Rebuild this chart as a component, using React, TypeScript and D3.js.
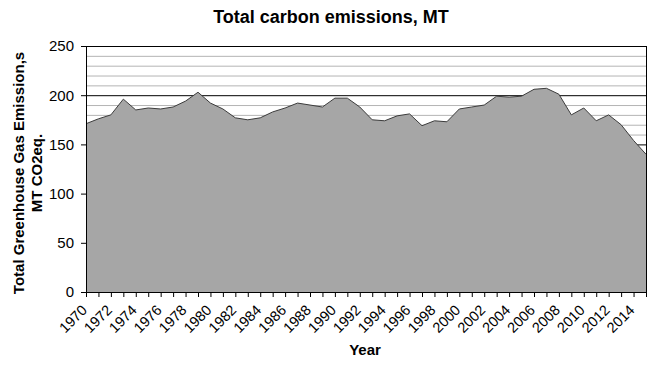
import React, { useEffect, useRef } from "react";
import * as d3 from "d3";

const years = d3.range(1970, 2016);
const emissions = [
  171, 176, 180, 196, 185, 187, 186, 188, 194, 203,
  192, 186, 177, 175, 177, 183, 187, 192, 190, 188,
  197, 197, 188, 175, 174, 179, 181, 169, 174, 173,
  186, 188, 190, 199, 198, 199, 206, 207, 201, 180,
  187, 174, 180, 170, 154, 140,
];
const yTicks = [0, 50, 100, 150, 200, 250];
const xLabelYears = years.filter((y) => y % 2 === 0 && y < 2015);

const App = () => {
  const svgRef = useRef<SVGSVGElement>(null);

  useEffect(() => {
    const margin = { top: 46, right: 14, bottom: 81, left: 86 };
    const W = 660;
    const H = 373;
    const width = W - margin.left - margin.right;
    const height = H - margin.top - margin.bottom;
    const font = "Liberation Sans, Arial, sans-serif";

    const root = d3.select(svgRef.current);
    root.selectAll("*").remove();
    root.attr("width", W).attr("height", H);

    const svg = root
      .append("g")
      .attr("transform", `translate(${margin.left},${margin.top})`);

    const x = d3.scaleLinear().domain([1970, 2015]).range([0, width]);
    const y = d3.scaleLinear().domain([0, 250]).range([height, 0]);

    // minor grid every 10, major every 50
    svg.selectAll(".minor")
      .data(d3.range(10, 250, 10).filter((v) => v % 50 !== 0))
      .enter()
      .append("line")
      .attr("x1", 0)
      .attr("x2", width)
      .attr("y1", (d) => y(d) + 0.5)
      .attr("y2", (d) => y(d) + 0.5)
      .attr("stroke", "#b4b4b4")
      .attr("stroke-width", 1);

    svg.selectAll(".major")
      .data(yTicks.filter((v) => v > 0))
      .enter()
      .append("line")
      .attr("x1", 0)
      .attr("x2", width)
      .attr("y1", (d) => y(d) + 0.5)
      .attr("y2", (d) => y(d) + 0.5)
      .attr("stroke", "#000")
      .attr("stroke-width", 1);

    const area = d3
      .area<number>()
      .x((d, i) => x(years[i]))
      .y0(height)
      .y1((d) => y(d));

    svg.append("path")
      .datum(emissions)
      .attr("d", area)
      .attr("fill", "#a6a6a6");

    const line = d3
      .line<number>()
      .x((d, i) => x(years[i]))
      .y((d) => y(d));

    svg.append("path")
      .datum(emissions)
      .attr("d", line)
      .attr("fill", "none")
      .attr("stroke", "#3c3c3c")
      .attr("stroke-width", 1);

    // plot border right
    svg.append("line")
      .attr("x1", width + 0.5)
      .attr("x2", width + 0.5)
      .attr("y1", 0)
      .attr("y2", height)
      .attr("stroke", "#000");

    // y axis
    const yAxis = svg.append("g")
      .call(d3.axisLeft(y).tickValues(yTicks).tickSize(5).tickPadding(7).tickSizeOuter(0));
    yAxis.selectAll("text")
      .attr("font-size", 15)
      .attr("font-family", font)
      .attr("fill", "#000");
    yAxis.select(".domain").attr("stroke", "#000");

    // x axis
    const xAxis = svg.append("g")
      .attr("transform", `translate(0,${height})`)
      .call(d3.axisBottom(x).tickValues(years).tickSize(5).tickSizeOuter(0).tickFormat(() => ""));
    xAxis.select(".domain").attr("stroke", "#000");

    svg.selectAll(".xlab")
      .data(xLabelYears)
      .enter()
      .append("text")
      .attr("transform", (d) => `translate(${x(d) + 2},${height + 19}) rotate(-45)`)
      .attr("text-anchor", "end")
      .attr("font-size", 14.5)
      .attr("font-family", font)
      .text((d) => d);

    root.append("text")
      .attr("x", 331)
      .attr("y", 23)
      .attr("text-anchor", "middle")
      .attr("font-size", 18)
      .attr("font-weight", "bold")
      .attr("font-family", font)
      .text("Total carbon emissions, MT");

    root.append("text")
      .attr("x", 365)
      .attr("y", 355)
      .attr("text-anchor", "middle")
      .attr("font-size", 15)
      .attr("font-weight", "bold")
      .attr("font-family", font)
      .text("Year");

    const yt = root.append("text")
      .attr("transform", "translate(24,173) rotate(-90)")
      .attr("text-anchor", "middle")
      .attr("font-size", 15)
      .attr("font-weight", "bold")
      .attr("font-family", font);
    yt.append("tspan").attr("x", 0).attr("y", 0).text("Total Greenhouse Gas Emission,s");
    yt.append("tspan").attr("x", 0).attr("y", 18).text("MT CO2eq.");
  }, []);

  return <svg ref={svgRef} style={{ position: "absolute", left: 0, top: 0 }}></svg>;
};

export default App;
